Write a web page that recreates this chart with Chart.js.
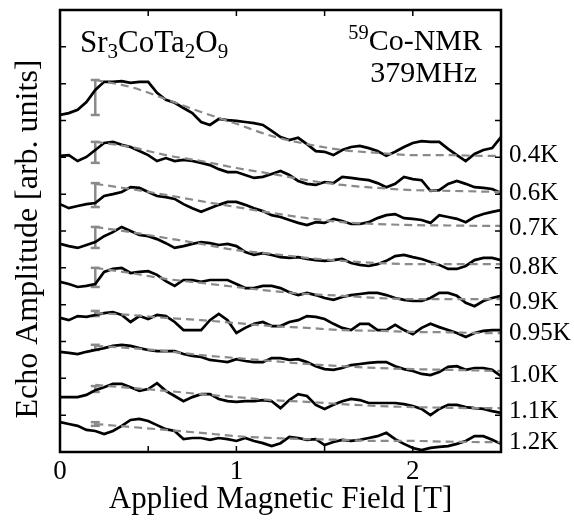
<!DOCTYPE html>
<html>
<head>
<meta charset="utf-8">
<script src="https://cdn.jsdelivr.net/npm/chart.js@4.4.0/dist/chart.umd.min.js"></script>
<style>
  html, body { margin: 0; padding: 0; background: #fff; }
  canvas { display: block; }
</style>
</head>
<body>
<canvas id="nmr-chart" width="574" height="525"></canvas>
<script>
// Applied field grid for the measured spectra (T)
const field = [0, 0.05, 0.1, 0.15, 0.2, 0.25, 0.3, 0.35, 0.4, 0.45,
    0.5, 0.55, 0.6, 0.65, 0.7, 0.75, 0.8, 0.85, 0.9, 0.95,
    1.0, 1.05, 1.1, 1.15, 1.2, 1.25, 1.3, 1.35, 1.4, 1.45,
    1.5, 1.55, 1.6, 1.65, 1.7, 1.75, 1.8, 1.85, 1.9, 1.95,
    2.0, 2.05, 2.1, 2.15, 2.2, 2.25, 2.3, 2.35, 2.4, 2.45, 2.5];

// Echo amplitude (arb. units, offset per temperature)
const echo04K = [9.15, 9.20, 9.29, 9.50, 9.83, 10.05, 10.05, 10.07, 10.02, 10.05,
    10.05, 9.75, 9.56, 9.48, 9.34, 9.20, 8.96, 8.88, 9.04, 9.01,
    8.99, 8.96, 8.93, 8.88, 8.72, 8.55, 8.47, 8.53, 8.36, 8.17,
    8.15, 8.06, 8.20, 8.28, 8.31, 8.25, 8.17, 8.04, 8.15, 8.28,
    8.39, 8.44, 8.42, 8.42, 8.23, 8.06, 7.90, 8.09, 8.20, 8.25, 8.55];
const echo06K = [8.04, 8.06, 7.90, 8.01, 8.20, 8.39, 8.42, 8.34, 8.28, 8.17,
    8.06, 7.90, 7.98, 7.90, 7.93, 7.90, 7.85, 7.79, 7.68, 7.60,
    7.60, 7.52, 7.44, 7.47, 7.55, 7.63, 7.52, 7.36, 7.28, 7.25,
    7.33, 7.30, 7.47, 7.44, 7.41, 7.38, 7.30, 7.19, 7.28, 7.47,
    7.41, 7.38, 7.09, 7.11, 7.28, 7.36, 7.28, 7.19, 7.17, 7.14, 7.03];
const echo07K = [6.73, 6.62, 6.68, 6.73, 6.76, 6.95, 7.00, 7.06, 7.19, 7.17,
    7.06, 6.95, 6.92, 6.87, 6.73, 6.62, 6.52, 6.62, 6.71, 6.79,
    6.79, 6.71, 6.62, 6.54, 6.43, 6.38, 6.30, 6.22, 6.16, 6.24,
    6.22, 6.33, 6.27, 6.19, 6.19, 6.24, 6.35, 6.43, 6.46, 6.35,
    6.33, 6.30, 6.22, 6.43, 6.38, 6.33, 6.24, 6.38, 6.46, 6.52, 6.57];
const echo08K = [5.65, 5.59, 5.54, 5.62, 5.70, 5.86, 5.97, 6.11, 6.00, 5.89,
    5.86, 5.78, 5.67, 5.54, 5.59, 5.65, 5.70, 5.67, 5.62, 5.65,
    5.59, 5.43, 5.35, 5.40, 5.35, 5.29, 5.27, 5.29, 5.24, 5.21,
    5.19, 5.21, 5.24, 5.13, 5.08, 5.05, 5.10, 5.19, 5.32, 5.35,
    5.29, 5.24, 5.16, 5.08, 4.97, 4.97, 5.05, 5.21, 5.27, 5.27, 5.21];
const echo09K = [4.62, 4.56, 4.48, 4.51, 4.56, 4.89, 4.97, 5.00, 4.86, 4.89,
    4.91, 4.81, 4.64, 4.51, 4.67, 4.67, 4.62, 4.67, 4.67, 4.67,
    4.56, 4.45, 4.45, 4.51, 4.51, 4.45, 4.34, 4.26, 4.32, 4.26,
    4.18, 4.13, 4.21, 4.26, 4.29, 4.32, 4.32, 4.26, 4.18, 4.13,
    4.10, 4.10, 4.18, 4.32, 4.32, 4.24, 4.05, 3.96, 4.10, 4.18, 4.24];
const echo095K = [3.64, 3.58, 3.69, 3.67, 3.72, 3.77, 3.80, 3.72, 3.53, 3.69,
    3.61, 3.72, 3.69, 3.53, 3.31, 3.31, 3.31, 3.58, 3.75, 3.58,
    3.23, 3.37, 3.48, 3.53, 3.42, 3.42, 3.53, 3.58, 3.69, 3.67,
    3.61, 3.48, 3.37, 3.31, 3.48, 3.48, 3.31, 3.31, 3.45, 3.31,
    3.20, 3.37, 3.48, 3.39, 3.31, 3.23, 3.12, 3.23, 3.29, 3.31, 3.31];
const echo10K = [2.72, 2.69, 2.66, 2.72, 2.77, 2.82, 2.88, 2.91, 2.88, 2.82,
    2.77, 2.74, 2.74, 2.74, 2.66, 2.61, 2.58, 2.50, 2.47, 2.44,
    2.52, 2.47, 2.44, 2.44, 2.55, 2.55, 2.50, 2.52, 2.44, 2.33,
    2.25, 2.23, 2.28, 2.36, 2.39, 2.42, 2.44, 2.44, 2.33, 2.25,
    2.20, 2.12, 2.09, 2.17, 2.31, 2.33, 2.23, 2.28, 2.28, 2.23, 2.06];
const echo11K = [1.49, 1.49, 1.49, 1.55, 1.68, 1.76, 1.85, 1.85, 1.76, 1.66,
    1.71, 1.87, 1.66, 1.52, 1.38, 1.49, 1.57, 1.57, 1.44, 1.38,
    1.36, 1.38, 1.38, 1.41, 1.38, 1.19, 1.41, 1.57, 1.52, 1.28,
    1.17, 1.28, 1.38, 1.44, 1.41, 1.33, 1.33, 1.33, 1.33, 1.30,
    1.25, 1.17, 1.00, 1.17, 1.28, 1.28, 1.22, 1.19, 1.17, 1.11, 1.06];
const echo12K = [0.81, 0.76, 0.71, 0.60, 0.57, 0.49, 0.57, 0.71, 0.87, 0.90,
    0.84, 0.73, 0.62, 0.57, 0.35, 0.38, 0.38, 0.33, 0.38, 0.35,
    0.30, 0.38, 0.30, 0.24, 0.16, 0.24, 0.41, 0.38, 0.33, 0.35,
    0.19, 0.27, 0.33, 0.30, 0.33, 0.38, 0.43, 0.52, 0.35, 0.22,
    0.11, 0.05, 0.11, 0.14, 0.16, 0.22, 0.30, 0.43, 0.43, 0.33, 0.22];

// Dashed fit curves
const fitField = [0.2, 0.4, 0.6, 0.8, 1.0, 1.2, 1.4, 1.6, 1.8, 2.0, 2.2, 2.4, 2.5];
const fit04K = [10.10, 9.91, 9.58, 9.23, 8.91, 8.58, 8.36, 8.20, 8.12, 8.06, 8.06, 8.04, 8.04];
const fit06K = [8.42, 8.28, 8.06, 7.90, 7.71, 7.55, 7.38, 7.25, 7.17, 7.11, 7.09, 7.07, 7.06];
const fit07K = [7.28, 7.14, 6.98, 6.81, 6.65, 6.49, 6.35, 6.24, 6.19, 6.16, 6.15, 6.14, 6.14];
const fit08K = [6.11, 5.97, 5.81, 5.65, 5.48, 5.38, 5.27, 5.19, 5.13, 5.10, 5.10, 5.10, 5.10];
const fit09K = [5.00, 4.86, 4.70, 4.59, 4.48, 4.37, 4.29, 4.24, 4.18, 4.15, 4.15, 4.15, 4.15];
const fit095K = [3.77, 3.72, 3.64, 3.58, 3.50, 3.42, 3.37, 3.31, 3.29, 3.26, 3.25, 3.23, 3.23];
const fit10K = [2.88, 2.82, 2.74, 2.63, 2.55, 2.47, 2.39, 2.33, 2.28, 2.25, 2.23, 2.21, 2.20];
const fit11K = [1.82, 1.74, 1.66, 1.57, 1.49, 1.41, 1.36, 1.30, 1.25, 1.22, 1.20, 1.19, 1.19];
const fit12K = [0.76, 0.68, 0.60, 0.52, 0.43, 0.38, 0.35, 0.33, 0.30, 0.30, 0.28, 0.27, 0.27];

// Error bars at 0.2 T: [top, bottom]
const errorField = 0.2;
const errTop = [10.10, 8.42, 7.30, 6.11, 5.00, 3.83, 2.91, 1.79, 0.81];
const errBottom = [9.15, 7.85, 6.65, 5.54, 4.48, 3.69, 2.77, 1.63, 0.71];

// Temperature labels and the level they sit at on the right edge
const tempLabels = ["0.4K", "0.6K", "0.7K", "0.8K", "0.9K", "0.95K", "1.0K", "1.1K", "1.2K"];
const labelLevels = [8.06, 7.03, 6.08, 5.00, 4.07, 3.23, 2.09, 1.09, 0.27];

const traces = [echo04K, echo06K, echo07K, echo08K, echo09K, echo095K, echo10K, echo11K, echo12K];
const fits = [fit04K, fit06K, fit07K, fit08K, fit09K, fit095K, fit10K, fit11K, fit12K];

const SERIF = '"Liberation Serif", "Times New Roman", serif';
const GREY = "#8a8a8a";

const datasets = [];
// fits first so they sit on top of the traces
fits.forEach(f => {
    datasets.push({
        data: fitField.map((x, i) => ({ x: x, y: f[i] })),
        borderColor: GREY,
        borderWidth: 2.2,
        borderDash: [8, 5],
        pointRadius: 0,
        cubicInterpolationMode: "monotone",
    });
});
traces.forEach(t => {
    datasets.push({
        data: field.map((x, i) => ({ x: x, y: t[i] })),
        borderColor: "#000",
        borderWidth: 2.7,
        pointRadius: 0,
        tension: 0,
    });
});
errTop.forEach((hi, i) => {
    datasets.push({
        data: [{ x: errorField, y: hi }, { x: errorField, y: errBottom[i] }],
        borderColor: GREY,
        borderWidth: 2.5,
        pointStyle: "line",
        pointRadius: 4.5,
        pointBorderColor: GREY,
        pointBorderWidth: 2.5,
    });
});

// sub/superscript text helper
function drawRich(ctx, parts, x, baseline, size, alignRight) {
    const widths = parts.map(p => {
        ctx.font = `${p.s ? size * 0.68 : size}px ${SERIF}`;
        return ctx.measureText(p.t).width;
    });
    let cx = alignRight ? x - widths.reduce((a, b) => a + b, 0) : x;
    parts.forEach((p, i) => {
        ctx.font = `${p.s ? size * 0.68 : size}px ${SERIF}`;
        const dy = p.s === "sub" ? size * 0.2 : p.s === "sup" ? -size * 0.38 : 0;
        ctx.fillText(p.t, cx, baseline + dy);
        cx += widths[i];
    });
}

const framePlugin = {
    id: "frame",
    afterDatasetsDraw(chart) {
        const { ctx, chartArea: a, scales: { x, y } } = chart;
        ctx.save();
        ctx.strokeStyle = "#000";
        ctx.lineWidth = 2.5;
        ctx.strokeRect(a.left, a.top, a.right - a.left, a.bottom - a.top);

        // inward tick marks on all four sides
        ctx.lineWidth = 1.5;
        ctx.beginPath();
        x.ticks.forEach(t => {
            const px = x.getPixelForValue(t.value);
            ctx.moveTo(px, a.bottom); ctx.lineTo(px, a.bottom - 6);
            ctx.moveTo(px, a.top); ctx.lineTo(px, a.top + 6);
        });
        y.ticks.forEach(t => {
            const py = y.getPixelForValue(t.value);
            ctx.moveTo(a.left, py); ctx.lineTo(a.left + 6, py);
            ctx.moveTo(a.right, py); ctx.lineTo(a.right - 6, py);
        });
        ctx.stroke();

        ctx.fillStyle = "#000";
        ctx.textBaseline = "alphabetic";
        ctx.textAlign = "left";
        drawRich(ctx, [{ t: "Sr" }, { t: "3", s: "sub" }, { t: "CoTa" }, { t: "2", s: "sub" },
            { t: "O" }, { t: "9", s: "sub" }], a.left + 20, a.top + 42, 31, false);
        drawRich(ctx, [{ t: "59", s: "sup" }, { t: "Co-NMR" }], a.right - 19, a.top + 40, 30, true);
        drawRich(ctx, [{ t: "379MHz" }], a.right - 24, a.top + 72, 30, true);

        ctx.font = `25px ${SERIF}`;
        ctx.textBaseline = "middle";
        tempLabels.forEach((lab, i) => {
            ctx.fillText(lab, a.right + 8, y.getPixelForValue(labelLevels[i]));
        });

        // y axis title, centred a little below the plot middle as in the figure
        ctx.save();
        ctx.translate(29, (a.top + a.bottom) / 2 + 8);
        ctx.rotate(-Math.PI / 2);
        ctx.textAlign = "center";
        ctx.textBaseline = "middle";
        ctx.font = `32px ${SERIF}`;
        ctx.fillText("Echo Amplitude [arb. units]", 0, 0);
        ctx.restore();

        ctx.restore();
    },
};

new Chart(document.getElementById("nmr-chart"), {
    type: "line",
    data: { datasets: datasets },
    options: {
        responsive: false,
        animation: false,
        devicePixelRatio: 1,
        layout: { padding: { top: 10, right: 73, left: 0, bottom: 0 } },
        plugins: { legend: { display: false }, tooltip: { enabled: false } },
        scales: {
            x: {
                type: "linear",
                min: 0,
                max: 2.5,
                ticks: {
                    stepSize: 0.5,
                    autoSkip: false,
                    maxRotation: 0,
                    padding: 4,
                    color: "#000",
                    font: { family: SERIF, size: 27 },
                    callback: v => (Number.isInteger(v) ? String(v) : ""),
                },
                grid: { display: false, drawTicks: false },
                border: { display: false },
                title: {
                    display: true,
                    text: "Applied Magnetic Field [T]",
                    color: "#000",
                    font: { family: SERIF, size: 31 },
                    padding: { top: 0, bottom: 7 },
                },
                afterFit: s => { s.height = 73; },
            },
            y: {
                min: 0,
                max: 12,
                ticks: { stepSize: 1, display: false },
                grid: { display: false, drawTicks: false },
                border: { display: false },
                afterFit: s => { s.width = 60; },
            },
        },
    },
    plugins: [framePlugin],
});
</script>
</body>
</html>
